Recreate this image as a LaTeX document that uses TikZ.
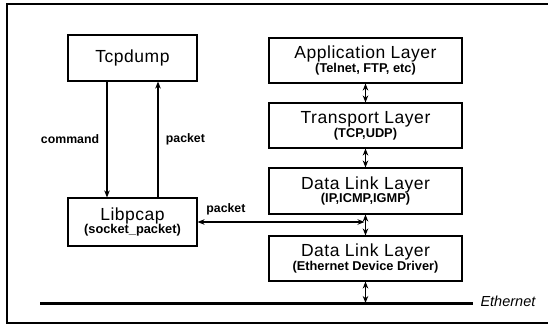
\documentclass[tikz,border=0pt]{standalone}
\usepackage{fontspec}
\setmainfont{Liberation Sans}
\usetikzlibrary{arrows.meta}
% title and subtitle faces used inside the boxes
\newcommand{\boxtitle}{\fontsize{17.5}{20}\selectfont\addfontfeatures{LetterSpace=3}}
\newcommand{\boxsub}{\fontsize{12.8}{14}\selectfont\bfseries}
\begin{document}
\begin{tikzpicture}[x=1pt,y=1pt,
  box/.style={draw, line width=1.1pt, inner sep=0pt, align=center},
  lbox/.style={box, minimum width=129pt},
  rbox/.style={box, minimum width=193pt, minimum height=45pt},
  lbl/.style={font=\fontsize{12.3}{14}\selectfont\bfseries},
  tip/.style={-{Stealth[length=7pt,width=5.5pt]}},
  dtip/.style={{Stealth[length=7pt,width=5.5pt]}-{Stealth[length=7pt,width=5.5pt]}},
  wire/.style={line width=1.2pt}]
\useasboundingbox (0,0) rectangle (548,-326);
\clip (0,0) rectangle (548,-326);
\fill[white] (0,0) rectangle (548,-326);
% outer frame, open on the right side
\draw[line width=1.5pt] (7,-4) rectangle (560,-323);

% left column: Tcpdump over Libpcap
\node[lbox, minimum height=46pt] (tcp) at (132.5,-58)
  {\boxtitle Tcpdump};
\node[lbox, minimum height=48pt] (lib) at (132.5,-222)
  {\boxtitle Libpcap\\[0pt]
   \boxsub (socket\_packet)};

% right column: protocol stack
\node[rbox] (app) at (365.5,-60.5)
  {\boxtitle Application Layer\\[0pt]
   \boxsub (Telnet, FTP, etc)};
\node[rbox] (trn) at (365.5,-125.5)
  {\boxtitle Transport Layer\\[0pt]
   \boxsub (TCP,UDP)};
\node[rbox, minimum height=46pt] (dl1) at (365.5,-191)
  {\boxtitle Data Link Layer\\[0pt]
   \boxsub (IP,ICMP,IGMP)};
\node[rbox] (dl2) at (365.5,-258.5)
  {\boxtitle Data Link Layer\\[0pt]
   \boxsub (Ethernet Device Driver)};

% Ethernet bus
\coordinate (ethL) at (40,-303);
\coordinate (ethR) at (473,-303);
\draw[line width=3pt] (ethL) -- (ethR);
\node[anchor=west, font=\fontsize{14.5}{16}\selectfont\itshape] (ethlbl) at (477,-301) {Ethernet};

% command / packet between Tcpdump and Libpcap
\draw[wire, tip] ([xshift=-25.5pt]tcp.south) -- ([xshift=-25.5pt]lib.north)
  node[midway, left=4pt, lbl] (cmdlbl) {command};
\draw[wire, tip] ([xshift=25.5pt]lib.north) -- ([xshift=25.5pt]tcp.south)
  node[midway, right=4pt, lbl] (pktlbl) {packet};

% stack connectors
\draw[wire, dtip] (app.south) -- (trn.north);
\draw[wire, dtip] (trn.south) -- (dl1.north);
\draw[wire, dtip] (dl1.south) -- (dl2.north);
\draw[wire, dtip] (dl2.south) -- (dl2.south |- ethL);

% packet tap from the stack into Libpcap
\coordinate (tap) at ([xshift=-1pt]lib.east -| dl1.south);
\draw[wire, dtip] (lib.east) -- (tap)
  node[pos=0.17, above=3pt, lbl] (taplbl) {packet};
\end{tikzpicture}
\end{document}
